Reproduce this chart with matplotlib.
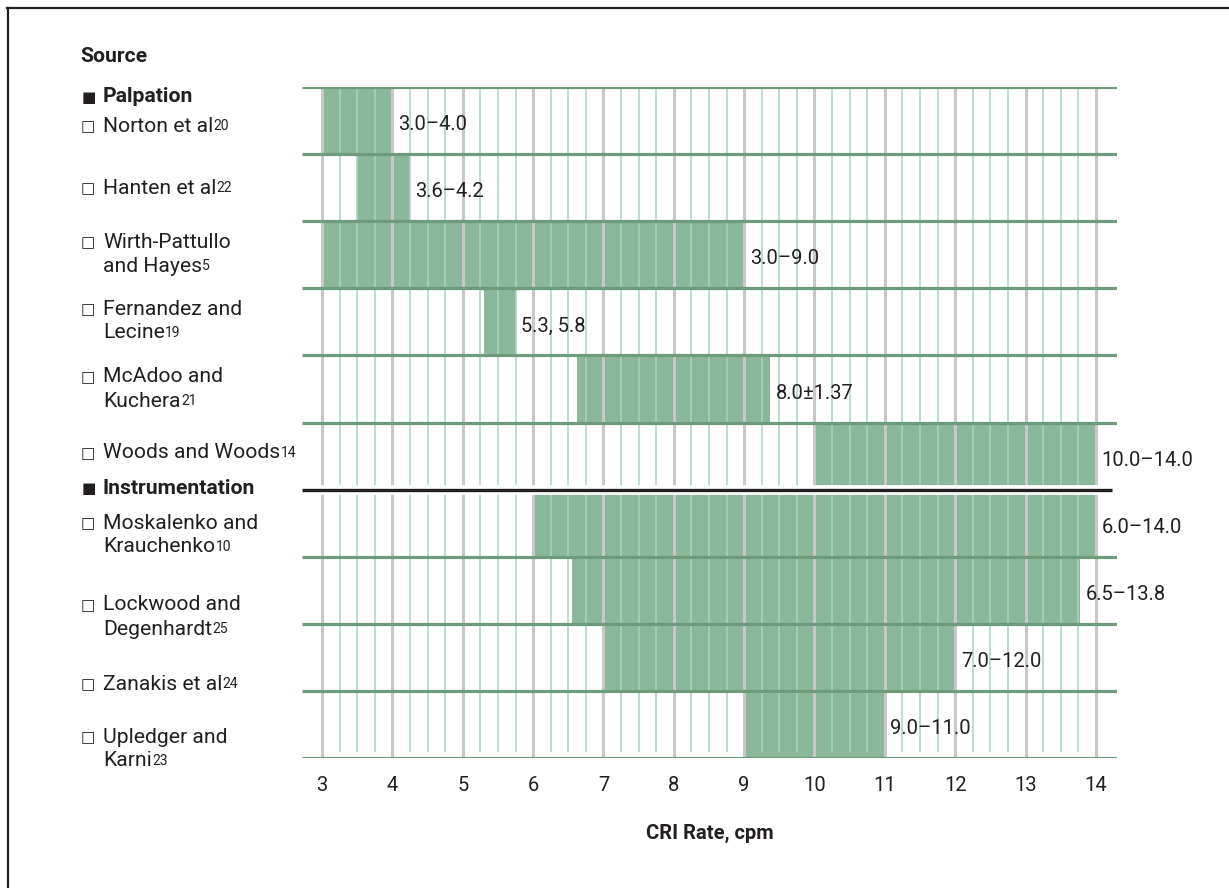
import matplotlib
matplotlib.use('Agg')
import matplotlib.pyplot as plt
from matplotlib.lines import Line2D

# ---------------- data ----------------
source_lines = [
    ["Norton et al"],
    ["Hanten et al"],
    ["Wirth-Pattullo", "and Hayes"],
    ["Fernandez and", "Lecine"],
    ["McAdoo and", "Kuchera"],
    ["Woods and Woods"],
    ["Moskalenko and", "Krauchenko"],
    ["Lockwood and", "Degenhardt"],
    ["Zanakis et al"],
    ["Upledger and", "Karni"],
]
source_refs = ["20", "22", "5", "19", "21", "14", "10", "25", "24", "23"]
bar_start = [3.0, 3.5, 3.0, 5.3, 6.63, 10.0, 6.0, 6.55, 7.0, 9.0]
bar_end = [4.0, 4.25, 9.0, 5.75, 9.37, 14.0, 14.0, 13.78, 12.0, 11.0]
value_labels = ["3.0–4.0", "3.6–4.2", "3.0–9.0", "5.3, 5.8", "8.0±1.37",
                "10.0–14.0", "6.0–14.0", "6.5–13.8", "7.0–12.0", "9.0–11.0"]
group_names = ["Palpation", "Instrumentation"]
x_ticks = [3, 4, 5, 6, 7, 8, 9, 10, 11, 12, 13, 14]
x_label = "CRI Rate, cpm"
header = "Source"

# ---------------- layout ----------------
W, H = 1229, 888
FONT = ['Roboto', 'DejaVu Sans']
TXT = '#231f20'
FS = 14.5
FSL = 15.2
plt.rcParams['font.family'] = FONT

fig = plt.figure(figsize=(W / 100, H / 100), dpi=100)
ax = fig.add_axes([302 / W, 1 - 758 / H, (1117 - 302) / W, (758 - 87) / H])
xmin, xmax = 2.715, 14.30
ax.set_xlim(xmin, xmax)
ax.set_ylim(10, 0)
for s in ax.spines.values():
    s.set_visible(False)
ax.set_yticks([])
ax.set_xticks(x_ticks)
ax.set_xticklabels([str(t) for t in x_ticks], fontsize=FS, color=TXT)
ax.tick_params(axis='x', length=0, pad=13)
ax.set_xlabel(x_label, fontsize=FS, fontweight='bold', color=TXT, labelpad=21)

n = len(bar_start)
# bars
for i in range(n):
    ax.barh(i + 0.5, bar_end[i] - bar_start[i], left=bar_start[i], height=1.0,
            color='#8bb79a', zorder=1, linewidth=0)
    ax.annotate(value_labels[i], xy=(bar_end[i], i + 0.5), xytext=(4, -3),
                textcoords='offset points', va='center', ha='left',
                fontsize=FS, color=TXT, zorder=6)

# vertical grid
minor = [x_ticks[0] + k * 0.25 for k in range(int((x_ticks[-1] - x_ticks[0]) / 0.25) + 1)]
minor = [m for m in minor if abs(m - round(m)) > 1e-9]
ax.vlines(minor, 0, 9.91, colors='#a8d4c0', linewidth=1.1, zorder=2)
ax.vlines(x_ticks, 0, 10, colors='#c8c8c8', linewidth=2.2, zorder=2)

# horizontal separators
ax.hlines(range(0, n + 1), xmin, xmax, colors='#6e9b7b', linewidth=2.3, zorder=3)
# group separator
ax.hlines([6], xmin, xmax, colors='white', linewidth=7, zorder=4)
ax.hlines([6], xmin, xmax - 0.07, colors='#231f20', linewidth=2.4, zorder=5)

# ---------------- left-side labels ----------------
def fx(px):
    return px / W

def fy(py):
    return 1 - py / H

fig.text(fx(80), fy(57), header, fontsize=FSL, fontweight='bold', color=TXT,
         va='center', ha='left')
group_y = [97, 488]
for g, gy in zip(group_names, group_y):
    fig.text(fx(82), fy(gy), "■", fontsize=11, color=TXT, va='center', ha='left',
             family=['DejaVu Sans'])
    fig.text(fx(103), fy(gy), g, fontsize=FSL, fontweight='bold', color=TXT,
             va='center', ha='left')

label_center = [126, 188, 254, 321, 389, 453, 535, 617, 684, 749]
line_gap = 24
for i in range(n):
    lines = source_lines[i]
    c = label_center[i]
    y0 = c - (len(lines) - 1) * line_gap / 2
    fig.text(fx(81), fy(y0 + 1), "□", fontsize=11, color=TXT, va='center', ha='left',
             family=['DejaVu Sans'])
    last = None
    for k, ln in enumerate(lines):
        last = fig.text(fx(103), fy(y0 + k * line_gap), ln, fontsize=FSL,
                        color=TXT, va='center', ha='left')
    plt.annotate(source_refs[i], xy=(1, 0), xycoords=last,
                 xytext=(0.3, 4.3), textcoords='offset points',
                 fontsize=10, color=TXT, va='baseline', ha='left',
                 annotation_clip=False)

# frame (top and left)
fig.add_artist(Line2D([fx(7), 1], [fy(8), fy(8)], color=TXT, linewidth=1.6,
                      transform=fig.transFigure))
fig.add_artist(Line2D([fx(7.5), fx(7.5)], [fy(8), 0], color=TXT, linewidth=1.6,
                      transform=fig.transFigure))

fig.savefig('out.png', dpi=100)
